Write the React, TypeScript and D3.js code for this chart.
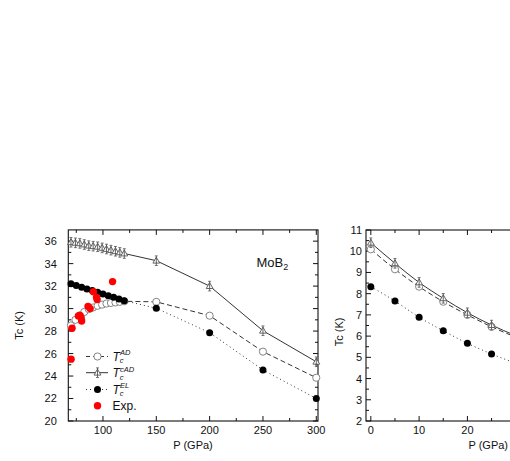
import React from "react";
import { scaleLinear, line, curveMonotoneX, range } from "d3";

// left panel: MoB2, P from 70 to 300 GPa
const pAD = [70, 74.2, 78.3, 82.5, 86.7, 90.8, 95, 99.2, 103.3, 107.5, 111.7, 115.8, 120, 150, 200, 250, 300];
const tcAD = [28.5, 29.0, 29.4, 29.7, 29.95, 30.1, 30.25, 30.35, 30.45, 30.5, 30.55, 30.6, 30.65, 30.6, 29.37, 26.17, 23.85];
const tcCAD = [35.9, 35.85, 35.8, 35.7, 35.6, 35.55, 35.5, 35.4, 35.3, 35.2, 35.1, 35.0, 34.9, 34.26, 32.0, 28.03, 25.27];
const pEL = [70, 75, 80, 85, 90, 95, 100, 105, 110, 115, 120, 150, 200, 250, 300];
const tcEL = [32.2, 32.05, 31.9, 31.75, 31.6, 31.45, 31.3, 31.15, 31.0, 30.85, 30.7, 30.03, 27.86, 24.54, 22.0];
const pExp = [70.1, 71, 77, 78.5, 79.5, 80, 86, 88, 91, 94, 94.5, 109];
const tcExp = [25.5, 28.25, 29.35, 29.4, 29.2, 28.9, 30.2, 30.0, 31.5, 31.0, 30.8, 32.4];

// right panel
const pR = [0, 5, 10, 15, 20, 25, 30];
const tcADR = [10.09, 9.15, 8.33, 7.62, 7.0, 6.44, 5.95];
const tcCADR = [10.4, 9.43, 8.53, 7.78, 7.1, 6.52, 6.02];
const tcELR = [8.33, 7.65, 6.89, 6.25, 5.66, 5.16, 4.72];

const leftXTicks = [100, 150, 200, 250, 300];
const leftXMinor = [75, 125, 175, 225, 275];
const leftYTicks = [20, 22, 24, 26, 28, 30, 32, 34, 36];
const leftYMinor = [21, 23, 25, 27, 29, 31, 33, 35];
const rightXTicks = [0, 10, 20];
const rightXMinor = [5, 15, 25];
const rightYTicks = [2, 3, 4, 5, 6, 7, 8, 9, 10, 11];
const rightYMinor = [2.5, 3.5, 4.5, 5.5, 6.5, 7.5, 8.5, 9.5, 10.5];

const font = "'Liberation Sans', Arial, sans-serif";
const ink = "#333";

const xL = scaleLinear().domain([67.5, 301.6]).range([68.3, 318]);
const yL = scaleLinear().domain([20, 37]).range([421, 229.9]);
const xR = scaleLinear().domain([-1, 30]).range([366, 515.7]);
const yR = scaleLinear().domain([2, 11]).range([421, 230]);

const Tri = ({ x, y }: { x: number; y: number }) => (
  <g transform={`translate(${x},${y})`}>
    <path d="M0,-3.6L3.4,2.4L-3.4,2.4Z" fill="white" stroke="#555" strokeWidth={0.9} />
    <line y1={-4.8} y2={4.8} stroke="#555" strokeWidth={0.9} />
    <line x1={-1.5} x2={1.5} y1={-4.8} y2={-4.8} stroke="#555" strokeWidth={0.8} />
    <line x1={-1.5} x2={1.5} y1={4.8} y2={4.8} stroke="#555" strokeWidth={0.8} />
  </g>
);

const Frame = ({ xs, ys, x0, x1, y0, y1, xt, xm, yt, ym, xFmt }: any) => (
  <g>
    <rect x={x0} y={y1} width={x1 - x0} height={y0 - y1} fill="none" stroke="#111" strokeWidth={1.1} />
    {xt.map((t: number) => (
      <g key={"xt" + t}>
        <line x1={xs(t)} x2={xs(t)} y1={y0} y2={y0 - 5} stroke="#111" />
        <line x1={xs(t)} x2={xs(t)} y1={y1} y2={y1 + 5} stroke="#111" />
        <text x={xs(t)} y={y0 + 13} textAnchor="middle" fontSize={11} fontFamily={font} fill="#111">
          {t}
        </text>
      </g>
    ))}
    {xm.map((t: number) => (
      <g key={"xm" + t}>
        <line x1={xs(t)} x2={xs(t)} y1={y0} y2={y0 - 3} stroke="#111" />
        <line x1={xs(t)} x2={xs(t)} y1={y1} y2={y1 + 3} stroke="#111" />
      </g>
    ))}
    {yt.map((t: number) => (
      <g key={"yt" + t}>
        <line x1={x0} x2={x0 + 5} y1={ys(t)} y2={ys(t)} stroke="#111" />
        <line x1={x1} x2={x1 - 5} y1={ys(t)} y2={ys(t)} stroke="#111" />
        <text x={x0 - xFmt} y={ys(t)} dy="0.36em" textAnchor="end" fontSize={11} fontFamily={font} fill="#111">
          {t}
        </text>
      </g>
    ))}
    {ym.map((t: number) => (
      <g key={"ym" + t}>
        <line x1={x0} x2={x0 + 3} y1={ys(t)} y2={ys(t)} stroke="#111" />
        <line x1={x1} x2={x1 - 3} y1={ys(t)} y2={ys(t)} stroke="#111" />
      </g>
    ))}
  </g>
);

const LegendLabel = ({ x, y, sup }: { x: number; y: number; sup: string }) => (
  <text x={x} y={y} dy="0.36em" fontFamily={font} fill="#111" fontSize={12}>
    <tspan fontStyle="italic">T</tspan>
    <tspan fontSize={7.5} fontStyle="italic" dy={2.5}>c</tspan>
    <tspan fontSize={7.5} fontStyle="italic" dx={-3.5} dy={-8}>{sup}</tspan>
  </text>
);

export default function App() {
  const lineL = (ps: number[], vs: number[]) =>
    line<number>()
      .x((_, i) => xL(ps[i]))
      .y((v) => yL(v))(vs) as string;
  const lineR = (vs: number[]) =>
    line<number>()
      .x((_, i) => xR(pR[i]))
      .y((v) => yR(v))
      .curve(curveMonotoneX)(vs) as string;

  const legendRows = [356.5, 372.7, 389.5, 405.7];

  return (
    <svg width={510} height={461} style={{ position: "absolute", left: 0, top: 0 }}>
      <rect width={510} height={461} fill="white" />
      {/* left panel */}
      <Frame xs={xL} ys={yL} x0={68.3} x1={318} y0={421} y1={229.9}
        xt={leftXTicks} xm={leftXMinor} yt={leftYTicks} ym={leftYMinor} xFmt={11.5} />
      <path d={lineL(pAD, tcCAD)} fill="none" stroke={ink} strokeWidth={1} />
      <path d={lineL(pAD, tcAD)} fill="none" stroke={ink} strokeWidth={1} strokeDasharray="5,3" />
      <path d={lineL(pEL, tcEL)} fill="none" stroke={ink} strokeWidth={1} strokeDasharray="1,3" />
      {pAD.map((p, i) => (
        <Tri key={"t" + i} x={xL(p)} y={yL(tcCAD[i])} />
      ))}
      {pAD.map((p, i) => (
        <circle key={"o" + i} cx={xL(p)} cy={yL(tcAD[i])} r={3.6} fill="white" stroke="#777" strokeWidth={0.9} />
      ))}
      {pEL.map((p, i) => (
        <circle key={"f" + i} cx={xL(p)} cy={yL(tcEL[i])} r={3.5} fill="#000" />
      ))}
      {pExp.map((p, i) => (
        <circle key={"e" + i} cx={xL(p)} cy={yL(tcExp[i])} r={3.7} fill="#ff0000" />
      ))}
      <text x={256.5} y={266.7} fontSize={13} fontFamily={font} fill="#111">
        MoB<tspan fontSize={9} dy={3}>2</tspan>
      </text>
      {/* legend */}
      <line x1={86} x2={108} y1={legendRows[0]} y2={legendRows[0]} stroke={ink} strokeDasharray="4,3" />
      <circle cx={97.5} cy={legendRows[0]} r={3.6} fill="white" stroke="#777" strokeWidth={0.9} />
      <line x1={86} x2={108} y1={legendRows[1]} y2={legendRows[1]} stroke={ink} />
      <Tri x={97.5} y={legendRows[1]} />
      <line x1={86} x2={108} y1={legendRows[2]} y2={legendRows[2]} stroke={ink} strokeDasharray="1,3" />
      <circle cx={97.5} cy={legendRows[2]} r={3.5} fill="#000" />
      <circle cx={97.5} cy={legendRows[3]} r={3.7} fill="#ff0000" />
      <LegendLabel x={112.5} y={legendRows[0]} sup="AD" />
      <LegendLabel x={112.5} y={legendRows[1]} sup="cAD" />
      <LegendLabel x={112.5} y={legendRows[2]} sup="EL" />
      <text x={112.5} y={legendRows[3]} dy="0.36em" fontSize={12} fontFamily={font} fill="#111">Exp.</text>
      <text x={193} y={449} textAnchor="middle" fontSize={11} fontFamily={font} fill="#111">P (GPa)</text>
      <text transform={`translate(23,${yL(28.5)}) rotate(-90)`} textAnchor="middle" fontSize={11} fontFamily={font} fill="#111">
        Tc (K)
      </text>

      {/* right panel */}
      <Frame xs={xR} ys={yR} x0={366} x1={520} y0={421} y1={230}
        xt={rightXTicks} xm={rightXMinor} yt={rightYTicks} ym={rightYMinor} xFmt={4} />
      <path d={lineR(tcCADR)} fill="none" stroke={ink} strokeWidth={1} />
      <path d={lineR(tcADR)} fill="none" stroke={ink} strokeWidth={1} strokeDasharray="5,3" />
      <path d={lineR(tcELR)} fill="none" stroke={ink} strokeWidth={1} strokeDasharray="1,3" />
      {range(6).map((i) => (
        <g key={"r" + i}>
          <circle cx={xR(pR[i])} cy={yR(tcADR[i])} r={3.6} fill="white" stroke="#777" strokeWidth={0.9} />
          <Tri x={xR(pR[i])} y={yR(tcCADR[i])} />
          <circle cx={xR(pR[i])} cy={yR(tcELR[i])} r={3.5} fill="#000" />
        </g>
      ))}
      <text x={508} y={449} textAnchor="end" fontSize={11} fontFamily={font} fill="#111">P (GPa)</text>
      <text transform={`translate(343,${yR(6.2)}) rotate(-90)`} textAnchor="middle" fontSize={11} fontFamily={font} fill="#111">
        Tc (K)
      </text>
    </svg>
  );
}
